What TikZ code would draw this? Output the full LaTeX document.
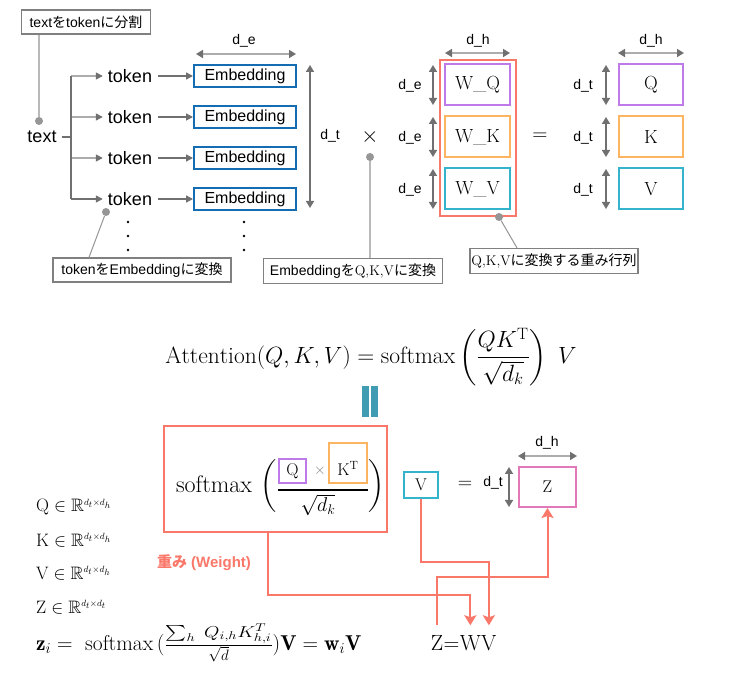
\documentclass[tikz,border=0pt]{standalone}
\usepackage{fix-cm}
\usepackage{graphicx}
\usepackage{amsmath,amssymb}
\usepackage{fontspec}
\newfontfamily\sanslat{Liberation Sans}
\newfontfamily\jp{Noto Sans CJK JP}
\usetikzlibrary{arrows.meta,positioning}
\newcommand{\fsz}[1]{\fontsize{#1}{#1}\selectfont}
\definecolor{salmon}{RGB}{250,120,106}
\definecolor{embblue}{RGB}{20,108,178}
\definecolor{qpurple}{RGB}{190,122,232}
\definecolor{korange}{RGB}{252,180,96}
\definecolor{vcyan}{RGB}{52,180,204}
\definecolor{zpink}{RGB}{226,120,184}
\definecolor{barteal}{RGB}{64,156,178}
\definecolor{dimgray}{RGB}{112,112,112}
\definecolor{ltgray}{RGB}{172,172,172}
\definecolor{lblgray}{RGB}{128,128,128}
\definecolor{dotgray}{RGB}{150,150,150}
\definecolor{pingray}{RGB}{185,185,185}
\begin{document}
\begin{tikzpicture}[x=1pt, y=-1pt,
  every node/.style={inner sep=0pt},
  lbl/.style={draw=lblgray, line width=1.2pt, fill=white, font=\sanslat\fsz{14}, minimum height=24pt},
  tok/.style={font=\sanslat\fsz{18}},
  emb/.style={draw=embblue, line width=2pt, minimum width=102pt, minimum height=22pt, font=\sanslat\fsz{16}},
  mat/.style={draw=#1, line width=2pt, minimum width=65pt, minimum height=41pt, font=\fsz{19}},
  fbox/.style={draw=#1, line width=2pt, font=\fsz{17}},
  dimlbl/.style={font=\sanslat\fsz{14}},
  dimh/.style={draw=ltgray, line width=1.6pt, {Triangle[length=7pt,width=8pt,color=dimgray]}-{Triangle[length=7pt,width=8pt,color=dimgray]}},
  dimv/.style={draw=dimgray, line width=1.6pt, {Triangle[length=7pt,width=8pt]}-{Triangle[length=7pt,width=8pt]}},
  trunk/.style={draw=dimgray, line width=1.4pt},
  brarr/.style={draw=#1, line width=1.4pt, -{Triangle[length=7pt,width=7pt,color=dimgray]}, shorten >=5pt},
  tokarr/.style={draw=dimgray, line width=1.4pt, -{Triangle[length=7pt,width=7pt]}, shorten <=6pt},
  pindot/.style={circle, fill=dotgray, minimum size=8pt},
  pinline/.style={draw=pingray, line width=1.6pt},
  pinthin/.style={draw=dotgray, line width=1pt},
  bar/.style={fill=barteal, minimum width=7pt, minimum height=31pt},
  flow/.style={draw=salmon, line width=2pt, -{Stealth[length=10pt,width=12pt,inset=2pt]}},
  defn/.style={anchor=west, font=\fsz{18}},
  zwv/.style={font=\fsz{22}}
]
\path[use as bounding box, fill=white] (0,0) rectangle (740,692);

% text -> token -> Embedding
\node[lbl, minimum width=129pt] (splitlbl) at (86,22) {text{\jp を}token{\jp に分割}};
\node[tok] (text) at (42,137) {text};
\foreach \i/\y/\c in {1/76/ltgray,2/117/ltgray,3/158/ltgray,4/199/dimgray} {
  \coordinate (br\i) at (71,\y);
  \node[tok] (tok\i) at (130,\y) {token};
  \node[emb] (emb\i) at (245,\y) {Embedding};
  \draw[brarr=\c] (br\i) -- (tok\i.west);
  \draw[tokarr] (tok\i) -- (emb\i);
}
\draw[trunk] (br1) -- (br4);
\draw[trunk, shorten <=5pt] (text.east) -- (text -| br1);
\foreach \y in {222,236,250} {
  \fill (128,\y) circle (1.4pt);
  \fill (244,\y) circle (1.4pt);
}
\draw[dimh] (196,54) -- (296,54);
\node[dimlbl] (de0) at (244,41) {d\_e};
\draw[dimv] (310,65) -- (310,208);
\node[dimlbl] (dt0) at (330,136) {d\_t};

\node[lbl, minimum width=178pt] (tokenlbl) at (142,270) {token{\jp を}Embedding{\jp に変換}};
\node[pindot] (tokdot) at (106,212) {};
\draw[pinthin] (tokdot) -- ([xshift=-53pt]tokenlbl.north);
\node[pindot] (splitdot) at (39,121) {};
\draw[pinline] (splitdot) -- (splitlbl.south -| splitdot);

% Embedding x W = Q,K,V
\node[font=\fsz{22}] (times) at (370,137) {$\times$};
\node[lbl, minimum width=179pt, minimum height=25pt] (embqkvlbl) at (353,271) {Embedding{\jp を}{\rmfamily Q,K,V}{\jp に変換}};
\node[pindot] (timesdot) at (370,157) {};
\draw[pinline] (timesdot) -- (embqkvlbl.north -| timesdot);

\node[draw=salmon, line width=2pt, minimum width=76pt, minimum height=156pt] (wbox) at (478,138) {};
\node[mat=qpurple] (wq) at (477.5,85) {W\_Q};
\node[mat=korange] (wk) at (477.5,137) {W\_K};
\node[mat=vcyan] (wv) at (477.5,189) {W\_V};
\draw[dimh] (445,53) -- (510,53);
\node[dimlbl] (dh1) at (478,41) {d\_h};
\foreach \y in {85,137,189} {
  \draw[dimv] (433,\y-20) -- (433,\y+20);
  \node[dimlbl] at (410,\y+1) {d\_e};
}
\node[lbl, minimum width=168pt, minimum height=25pt] (wlbl) at (554,261) {{\rmfamily Q,K,V}{\jp に変換する重み行列}};
\node[pindot] (wdot) at (499,217) {};
\draw[pinthin] (wdot) -- ([xshift=-37pt]wlbl.north);

\node[font=\fsz{21}] (eqtop) at (540,137) {$=$};
\node[mat=qpurple, minimum width=64pt] (q) at (651,85) {Q};
\node[mat=korange, minimum width=64pt] (k) at (651,137) {K};
\node[mat=vcyan, minimum width=64pt] (v) at (651,189) {V};
\draw[dimh] (618,53) -- (684,53);
\node[dimlbl] (dh2) at (651,41) {d\_h};
\foreach \y in {85,137,189} {
  \draw[dimv] (606,\y-20) -- (606,\y+20);
  \node[dimlbl] at (583,\y+1) {d\_t};
}

% Attention
\node[font=\fsz{23.5}] (attn) at (371,357) {$\displaystyle \mathrm{Attention}(Q,K,V)=\mathrm{softmax}\left(\frac{QK^{\mathrm{T}}}{\sqrt{d_k}}\right)\ V$};
\node[bar] (barl) at (365.5,401.5) {};
\node[bar] (barr) at (374.5,401.5) {};

\node[draw=salmon, line width=2pt, minimum width=223pt, minimum height=106pt] (wtbox) at (275.5,479) {};
\node[font=\fsz{24}] (smax) at (214,484) {$\mathrm{softmax}$};
\node[font=\fsz{22}] (lpar) at (268.5,486) {$\biggl($};
\node[font=\fsz{22}] (rpar) at (376.5,486) {$\biggr)$};
\node[fbox=qpurple, minimum width=27pt, minimum height=24pt] (qb) at (292.5,471) {Q};
\node[font=\fsz{15}, text=gray] (tms) at (320,471) {$\times$};
\node[fbox=korange, minimum width=38pt, text height=33pt, text depth=7pt] (ktb) at (348,463) {K$^{\mathrm{T}}$};
\draw[line width=1.1pt] (qb.south west |- 0,490) -- (ktb.south east |- 0,490);
\node[font=\fsz{20}] (sqd) at (318,505) {$\sqrt{d_k}$};

\node[fbox=vcyan, minimum width=34pt, minimum height=26pt] (vb) at (421,485) {V};
\node[font=\fsz{20}] (eqb) at (465,485) {$=$};
\node[dimlbl] (dtb) at (493,483) {d\_t};
\draw[dimv] (509,467) -- (509,507);
\node[fbox=zpink, minimum width=57pt, minimum height=40pt] (zb) at (547.5,487) {Z};
\draw[dimh] (518,456) -- (577,456);
\node[dimlbl] (dh3) at (547,443) {d\_h};

\node[font=\sanslat\bfseries\fsz{15}, text=salmon] (wtlbl) at (204,563) {{\jp\bfseries 重み} (Weight)};

% definitions
\node[defn] (qdef) at (36,507) {$\mathrm{Q}\in\mathbb{R}^{\scriptscriptstyle d_t\times d_h}$};
\node[defn] (kdef) at (36,540) {$\mathrm{K}\in\mathbb{R}^{\scriptscriptstyle d_t\times d_h}$};
\node[defn] (vdef) at (36,573) {$\mathrm{V}\in\mathbb{R}^{\scriptscriptstyle d_t\times d_h}$};
\node[defn] (zdef) at (36,607) {$\mathrm{Z}\in\mathbb{R}^{\scriptscriptstyle d_t\times d_t}$};
\node[defn, font=\fsz{21.5}] (zidef) at (36,643) {$\mathbf{z}_i=\ \mathrm{softmax}\,(\frac{\scalebox{1.32}[1.05]{$\scriptstyle\sum_h\; Q_{i,h}K^T_{h,i}$}}{\sqrt{d}})\mathbf{V}=\mathbf{w}_i\mathbf{V}$};

% Z = WV
\node[zwv] (zl) at (437,643) {Z};
\node[zwv, base right=0pt of zl] (eqz) {=};
\node[zwv, base right=0pt of eqz] (wl) {W};
\node[zwv, base right=0pt of wl] (vl) {V};
\draw[flow, shorten >=10pt] ([xshift=-7.5pt]wtbox.south) -- ++(0,62) -| (wl.north);
\draw[flow, shorten >=10pt] (vb.south) -- ++(0,63) -| (vl.north);
\draw[flow, shorten <=10pt] (zl.north) -- (zl.north |- 0,577) -| (zb.south);
\end{tikzpicture}
\end{document}
